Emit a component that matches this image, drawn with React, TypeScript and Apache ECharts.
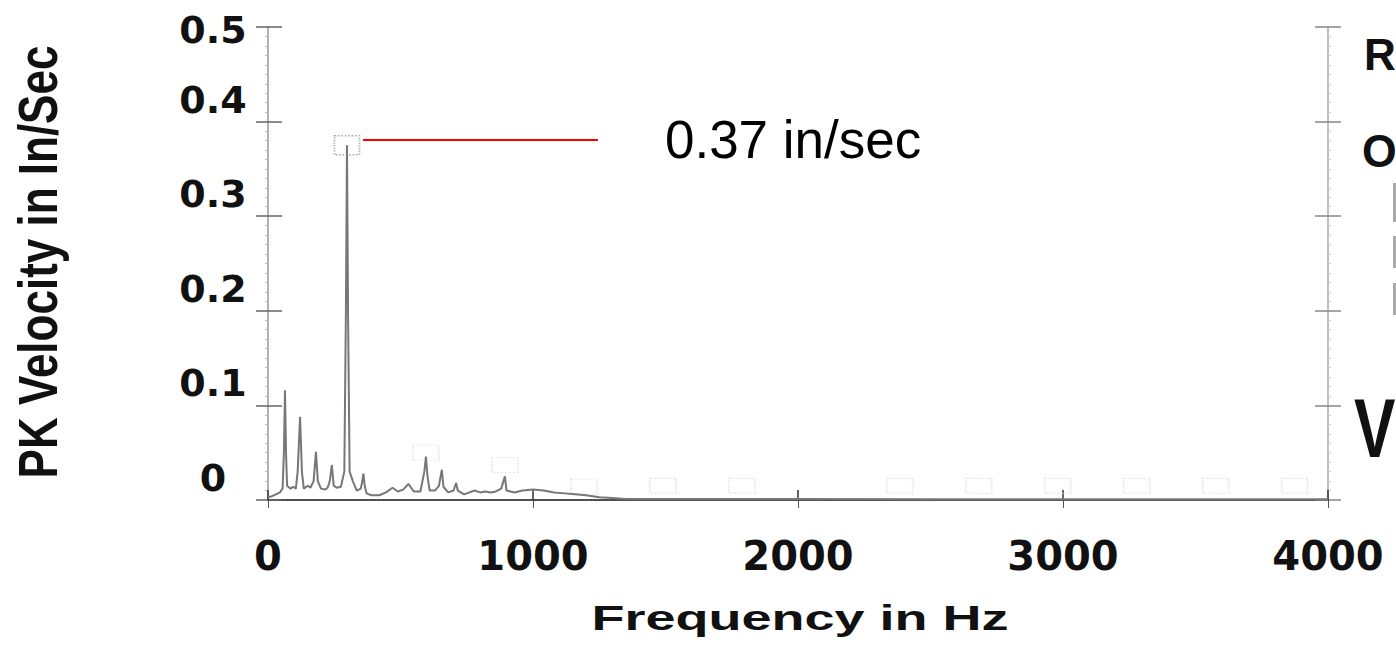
import React, { useEffect, useRef } from "react";
import * as echarts from "echarts";

// Spectrum: frequency (Hz) and PK velocity (in/sec)
const freqHz = [
  0, 15, 30, 45, 55, 60, 64, 68, 72, 85, 95, 105, 112, 121, 128, 135, 150, 160, 172, 181,
  188, 200, 215, 225, 233, 241, 248, 260, 275, 288, 294, 298, 302, 308, 320, 335, 350, 356,
  360, 365, 372, 390, 420, 445, 470, 490, 510, 530, 550, 575, 590, 596, 602, 610, 630, 645,
  656, 662, 680, 700, 710, 716, 740, 760, 780, 800, 820, 840, 860, 880, 894, 900, 930, 960,
  1000, 1040, 1080, 1120, 1160, 1200, 1250, 1300, 1350, 1500, 2000, 2500, 3000, 3500, 4000,
];
const velocity = [
  0.003, 0.004, 0.006, 0.008, 0.012, 0.05, 0.116, 0.05, 0.015, 0.012, 0.014, 0.012, 0.03,
  0.088, 0.03, 0.012, 0.015, 0.013, 0.02, 0.051, 0.02, 0.012, 0.011, 0.013, 0.02, 0.037,
  0.015, 0.013, 0.014, 0.03, 0.2, 0.375, 0.2, 0.03, 0.02, 0.01, 0.012, 0.02, 0.028, 0.015,
  0.007, 0.005, 0.005, 0.008, 0.013, 0.009, 0.011, 0.017, 0.009, 0.009, 0.03, 0.046, 0.025,
  0.01, 0.01, 0.015, 0.032, 0.014, 0.008, 0.01, 0.018, 0.01, 0.006, 0.008, 0.01, 0.008,
  0.009, 0.008, 0.009, 0.012, 0.025, 0.01, 0.008, 0.01, 0.011, 0.01, 0.008, 0.007, 0.006,
  0.005, 0.003, 0.002, 0.001, 0.001, 0.001, 0.0008, 0.0008, 0.0008, 0.0008,
];

// Peak marker
const peakHz = 298;
const peakVal = 0.375;
const peakLabel = "0.37 in/sec";
const annotationLevel = 0.381;
const annotationStartHz = 358;
const annotationEndHz = 1245;

// Faint harmonic marker boxes
const harmonicHz = [596, 894, 1192, 1490, 1788, 2384, 2682, 2980, 3278, 3576, 3874];
const harmonicMarkerVals = [0.05, 0.037, 0.014, 0.015, 0.015, 0.015, 0.015, 0.015, 0.015, 0.015, 0.015];

const yTickLabels = ["0", "0.1", "0.2", "0.3", "0.4", "0.5"];
const xTitle = "Frequency in Hz";
const yTitle = "PK Velocity in In/Sec";
const sideLetters = ["R", "O", "V"];

const BOLD_FONT = "DejaVu Sans";
const SANS = "Liberation Sans";

export default function App() {
  const ref = useRef<HTMLDivElement>(null);

  useEffect(() => {
    if (!ref.current) return;
    const chart = echarts.init(ref.current, null, { renderer: "svg" });

    const spectrum = freqHz.map((f, i) => [f, velocity[i]]);
    const harmonics = harmonicHz.map((f, i) => [f, harmonicMarkerVals[i]]);

    const yBase = {
      type: "value" as const,
      min: 0,
      max: 0.5,
      interval: 0.1,
      splitLine: { show: false },
    };

    chart.setOption({
      animation: false,
      backgroundColor: "#ffffff",
      grid: { left: 268, top: 27, width: 1060, height: 473, containLabel: false },
      xAxis: [
        {
          type: "value",
          min: 0,
          max: 4000,
          interval: 1000,
          position: "bottom",
          axisLine: { show: true, lineStyle: { color: "#333", width: 2 } },
          axisTick: { show: true, inside: true, length: 10, lineStyle: { color: "#333", width: 1.5 } },
          splitLine: { show: false },
          axisLabel: {
            margin: 36,
            formatter: (v: number) => String(Math.round(v)),
            fontFamily: BOLD_FONT,
            fontWeight: "bold",
            fontSize: 40,
            color: "#111",
          },
        },
        {
          type: "value",
          min: 0,
          max: 4000,
          interval: 1000,
          position: "top",
          axisLine: { show: true, lineStyle: { color: "#555", width: 2, type: "dotted" } },
          axisTick: { show: true, inside: true, length: 8, lineStyle: { color: "#555" } },
          axisLabel: { show: false },
          splitLine: { show: false },
        },
      ],
      yAxis: [
        {
          ...yBase,
          position: "left",
          axisLine: { show: true, lineStyle: { color: "#999", width: 1.5 } },
          axisTick: { show: true, inside: false, length: 12, lineStyle: { color: "#666", width: 1.5 } },
          minorTick: { show: true, splitNumber: 10, length: 3, lineStyle: { color: "#bbb" } },
          axisLabel: {
            margin: 55,
            align: "center",
            formatter: (v: number) => {
              const lbl = yTickLabels[Math.round(v * 10)];
              return Math.round(v * 10) === 5 ? `{t|${lbl}}` : `{u|${lbl}}`;
            },
            rich: {
              t: { fontFamily: BOLD_FONT, fontWeight: "bold", fontSize: 38, color: "#111", padding: [6, 0, 0, 0] },
              u: { fontFamily: BOLD_FONT, fontWeight: "bold", fontSize: 38, color: "#111", padding: [0, 0, 44, 0] },
            },
          },
        },
        {
          ...yBase,
          position: "left",
          axisLine: { show: false },
          axisTick: { show: true, inside: true, length: 14, lineStyle: { color: "#666", width: 1.5 } },
          axisLabel: { show: false },
        },
        {
          ...yBase,
          position: "right",
          axisLine: { show: true, lineStyle: { color: "#aaa", width: 1.5 } },
          axisTick: { show: true, inside: false, length: 13, lineStyle: { color: "#888", width: 1.5 } },
          minorTick: { show: true, splitNumber: 10, length: 3, lineStyle: { color: "#ccc" } },
          axisLabel: { show: false },
        },
        {
          ...yBase,
          position: "right",
          axisLine: { show: false },
          axisTick: { show: true, inside: true, length: 13, lineStyle: { color: "#888", width: 1.5 } },
          axisLabel: { show: false },
        },
      ],
      series: [
        {
          type: "line",
          data: spectrum,
          showSymbol: false,
          symbol: "none",
          lineStyle: { color: "#777", width: 2 },
          silent: true,
        },
        {
          type: "scatter",
          data: harmonics,
          symbol: "rect",
          symbolSize: [26, 15],
          itemStyle: { color: "rgba(0,0,0,0)", borderColor: "#ddd", borderWidth: 1.5, borderType: "dotted" },
          silent: true,
        },
        {
          type: "scatter",
          data: [[peakHz, peakVal]],
          symbol: "rect",
          symbolSize: [25, 19],
          itemStyle: { color: "rgba(0,0,0,0)", borderColor: "#999", borderWidth: 1.5, borderType: "dotted" },
          silent: true,
          markLine: {
            silent: true,
            symbol: ["none", "none"],
            lineStyle: { color: "#ff0000", width: 2, type: "solid" },
            label: {
              show: true,
              position: "end",
              distance: 67,
              formatter: peakLabel,
              fontFamily: SANS,
              fontSize: 53,
              color: "#000",
            },
            data: [
              [
                { coord: [annotationStartHz, annotationLevel] },
                { coord: [annotationEndHz, annotationLevel] },
              ],
            ],
          },
        },
      ],
      graphic: [
        {
          type: "text",
          x: 800,
          y: 617,
          scaleX: 1.5,
          style: {
            text: xTitle,
            fontFamily: SANS,
            fontWeight: "bold",
            fontSize: 36,
            fill: "#111",
            align: "center",
            verticalAlign: "middle",
          },
        },
        {
          type: "text",
          x: 38,
          y: 262,
          rotation: Math.PI / 2,
          scaleY: 1.25,
          style: {
            text: yTitle,
            fontFamily: SANS,
            fontWeight: "bold",
            fontSize: 44,
            fill: "#111",
            align: "center",
            verticalAlign: "middle",
          },
        },
        {
          type: "text",
          x: 1364,
          y: 54,
          scaleX: 1.0,
          style: { text: sideLetters[0], fontFamily: SANS, fontWeight: "bold", fontSize: 44, fill: "#111", align: "left", verticalAlign: "middle" },
        },
        {
          type: "text",
          x: 1362,
          y: 151,
          scaleX: 0.97,
          style: { text: sideLetters[1], fontFamily: SANS, fontWeight: "bold", fontSize: 46, fill: "#111", align: "left", verticalAlign: "middle" },
        },
        {
          type: "text",
          x: 1354,
          y: 428,
          scaleX: 0.74,
          style: { text: sideLetters[2], fontFamily: SANS, fontWeight: "bold", fontSize: 84, fill: "#111", align: "left", verticalAlign: "middle" },
        },
        { type: "rect", shape: { x: 1393, y: 183, width: 3, height: 39 }, style: { fill: "#aaa" } },
        { type: "rect", shape: { x: 1393, y: 236, width: 3, height: 32 }, style: { fill: "#aaa" } },
        { type: "rect", shape: { x: 1393, y: 283, width: 3, height: 32 }, style: { fill: "#aaa" } },
      ],
    });

    return () => chart.dispose();
  }, []);

  return (
    <div
      ref={ref}
      style={{ position: "absolute", left: 0, top: 0, width: 1396, height: 645, background: "#fff" }}
    />
  );
}
